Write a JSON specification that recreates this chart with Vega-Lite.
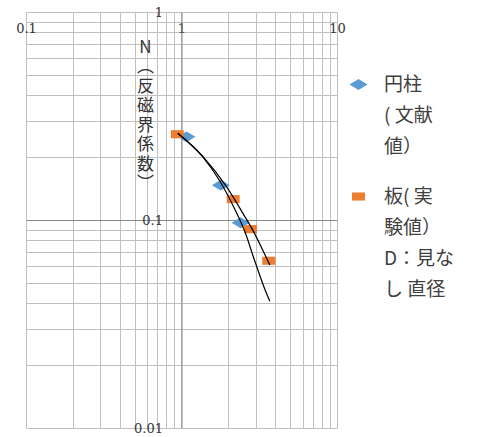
{
  "$schema": "https://vega.github.io/schema/vega-lite/v6.json",
  "width": 311,
  "height": 416,
  "autosize": "none",
  "padding": {"left": 26, "top": 12, "right": 147, "bottom": 9},
  "background": "white",
  "config": {
    "view": {"stroke": null},
    "style": {"guide-label": {"lineHeight": 31}}
  },
  "datasets": {
    "pts": [
      {"series": "円柱（文献値）", "x": 1.077, "y": 0.251},
      {"series": "円柱（文献値）", "x": 1.79, "y": 0.147},
      {"series": "円柱（文献値）", "x": 2.40, "y": 0.097},
      {"series": "板（実験値）D：見なし直径", "x": 0.94, "y": 0.2585},
      {"series": "板（実験値）D：見なし直径", "x": 2.15, "y": 0.126},
      {"series": "板（実験値）D：見なし直径", "x": 2.78, "y": 0.0904},
      {"series": "板（実験値）D：見なし直径", "x": 3.64, "y": 0.0637}
    ],
    "curves": [
      {"curve": "A", "x": 0.947, "y": 0.2615},
      {"curve": "A", "x": 1.371, "y": 0.2010},
      {"curve": "A", "x": 1.763, "y": 0.1540},
      {"curve": "A", "x": 2.138, "y": 0.1178},
      {"curve": "A", "x": 2.554, "y": 0.0880},
      {"curve": "A", "x": 2.96, "y": 0.0635},
      {"curve": "A", "x": 3.434, "y": 0.0465},
      {"curve": "A", "x": 3.70, "y": 0.0407},
      {"curve": "B", "x": 0.947, "y": 0.2615},
      {"curve": "B", "x": 1.371, "y": 0.2024},
      {"curve": "B", "x": 1.956, "y": 0.1438},
      {"curve": "B", "x": 2.479, "y": 0.1079},
      {"curve": "B", "x": 2.873, "y": 0.0894},
      {"curve": "B", "x": 3.333, "y": 0.0716},
      {"curve": "B", "x": 3.70, "y": 0.0607}
    ]
  },
  "layer": [
    {
      "data": {"name": "pts"},
      "mark": {"type": "point", "filled": true, "opacity": 1, "size": 324, "strokeWidth": 0},
      "encoding": {
        "x": {
          "field": "x", "type": "quantitative",
          "scale": {"type": "log", "domain": [0.1, 10]},
          "axis": {
            "orient": "bottom", "offset": -208,
            "values": [0.1, 0.2, 0.3, 0.4, 0.5, 0.6, 0.7, 0.8, 0.9, 1, 2, 3, 4, 5, 6, 7, 8, 9, 10],
            "format": "~g",
            "labelExpr": "(datum.value == 0.1 || datum.value == 1 || datum.value == 10) ? datum.label : ''",
            "labelOverlap": false, "labelFlush": false,
            "labelPadding": -192, "labelBaseline": "middle",
            "ticks": false, "tickSize": 0,
            "domainColor": "#868686", "domainWidth": 1,
            "grid": true, "gridColor": "#c0c0c0", "gridWidth": 1,
            "labelFont": "DejaVu Serif", "labelFontSize": 13, "labelColor": "#333333",
            "title": null
          }
        },
        "y": {
          "field": "y", "type": "quantitative",
          "scale": {"type": "log", "domain": [0.01, 1]},
          "axis": {
            "orient": "left", "offset": -155.5,
            "values": [0.01, 0.02, 0.03, 0.04, 0.05, 0.06, 0.07, 0.08, 0.09, 0.1, 0.2, 0.3, 0.4, 0.5, 0.6, 0.7, 0.8, 0.9, 1],
            "format": "~g",
            "labelExpr": "(datum.value == 0.01 || datum.value == 0.1 || datum.value == 1) ? datum.label : ''",
            "labelOverlap": false, "labelFlush": false,
            "labelPadding": 19,
            "ticks": false, "tickSize": 0,
            "domainColor": "#868686", "domainWidth": 1,
            "grid": true, "gridColor": "#c0c0c0", "gridWidth": 1,
            "labelFont": "DejaVu Serif", "labelFontSize": 13, "labelColor": "#333333",
            "title": ["N", "︵", "反", "磁", "界", "係", "数", "︶"],
            "titleFont": "Noto Sans CJK JP", "titleFontSize": 17, "titleFontWeight": "normal",
            "titleLineHeight": 19.5, "titleAngle": 0, "titleX": -36.5, "titleY": 27,
            "titleAlign": "center", "titleBaseline": "top", "titleColor": "#333333"
          }
        },
        "color": {
          "field": "series", "type": "nominal",
          "scale": {"domain": ["円柱（文献値）", "板（実験値）D：見なし直径"], "range": ["#5B9BD5", "#ED7D31"]},
          "legend": {
            "title": null, "orient": "none", "legendX": 323, "legendY": 63,
            "labelExpr": "datum.label == '円柱（文献値）' ? ['円柱', '( 文献', '値）'] : ['板( 実', '験値）', 'D：見な', 'し 直径']",
            "labelFont": "Noto Sans CJK JP", "labelFontSize": 19, "labelColor": "#404040",
            "labelLimit": 200, "symbolSize": 324, "labelOffset": 16, "rowPadding": 30,
            "padding": 0, "symbolOffset": 0, "symbolStrokeWidth": 0
          }
        },
        "shape": {
          "field": "series", "type": "nominal",
          "scale": {"domain": ["円柱（文献値）", "板（実験値）D：見なし直径"], "range": ["M-1,0L0,-0.6L1,0L0,0.6Z", "M-0.72,-0.45H0.72V0.45H-0.72Z"]},
          "legend": {
            "title": null, "orient": "none", "legendX": 323, "legendY": 63,
            "labelExpr": "datum.label == '円柱（文献値）' ? ['円柱', '( 文献', '値）'] : ['板( 実', '験値）', 'D：見な', 'し 直径']",
            "labelFont": "Noto Sans CJK JP", "labelFontSize": 19, "labelColor": "#404040",
            "labelLimit": 200, "symbolSize": 324, "labelOffset": 16, "rowPadding": 30,
            "padding": 0, "symbolOffset": 0, "symbolStrokeWidth": 0
          }
        }
      }
    },
    {
      "data": {"name": "curves"},
      "mark": {"type": "line", "color": "black", "strokeWidth": 1.2, "interpolate": "monotone"},
      "encoding": {
        "x": {"field": "x", "type": "quantitative"},
        "y": {"field": "y", "type": "quantitative"},
        "detail": {"field": "curve", "type": "nominal"}
      }
    }
  ]
}
